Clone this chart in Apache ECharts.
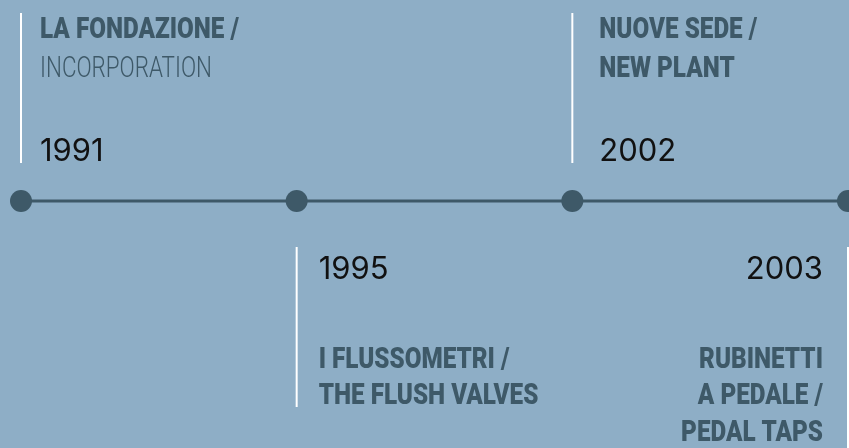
<!DOCTYPE html>
<html>
<head>
<meta charset="utf-8">
<script src="https://cdn.jsdelivr.net/npm/echarts@6/dist/echarts.min.js"></script>
<style>
html, body { margin: 0; padding: 0; background: #8eaec6; }
#main { width: 849px; height: 448px; }
</style>
</head>
<body>
<div id="main"></div>
<script>
// timeline data
var years = ['1991', '1995', '2002', '2003'];
var sides = ['top', 'bottom', 'top', 'bottom'];
var captions = [
    ['LA FONDAZIONE /', 'INCORPORATION'],
    ['I FLUSSOMETRI /', 'THE FLUSH VALVES'],
    ['NUOVE SEDE /', 'NEW PLANT'],
    ['RUBINETTI', 'A PEDALE /', 'PEDAL TAPS']
];
var thinLines = ['INCORPORATION'];
var axisValues = [0, 0, 0, 0];

var dark = '#3e5968';
var boldFont = '900 30px Roboto, sans-serif';
var thinFont = '300 30px Roboto, sans-serif';
var yearFont = '400 31px Inter, sans-serif';
// distance from the white line to the text column
var textGap = [19, 22, 27, -25];

// squeeze the caption fonts so they look condensed
var ctx = document.createElement('canvas').getContext('2d');
ctx.font = boldFont;
var squeezeBold = 199 / ctx.measureText('LA FONDAZIONE /').width;
ctx.font = thinFont;
var squeezeThin = 172 / ctx.measureText('INCORPORATION').width;

var chart = echarts.init(document.getElementById('main'));

function renderEvent(params, api) {
    var i = api.value(0);
    var p = api.coord([i, 0]);
    var top = sides[i] === 'top';
    var tx = p[0] + textGap[i];
    var align = textGap[i] < 0 ? 'right' : 'left';
    var children = [];

    children.push({
        type: 'line',
        shape: top ? { x1: p[0], y1: p[1] - 188, x2: p[0], y2: p[1] - 38 }
                   : { x1: p[0], y1: p[1] + 46, x2: p[0], y2: p[1] + (align === 'right' ? 260 : 206) },
        style: { stroke: '#ffffff', lineWidth: 2 }
    });

    // year
    children.push({
        type: 'text',
        style: {
            text: years[i],
            x: tx,
            y: top ? p[1] - 49 : p[1] + 68.5,
            align: align,
            verticalAlign: 'middle',
            fill: '#111111',
            font: yearFont
        }
    });

    // caption lines
    var lines = captions[i];
    for (var k = 0; k < lines.length; k++) {
        var thin = thinLines.indexOf(lines[k]) >= 0;
        var ty = top ? p[1] - 170.5 + k * 39 : p[1] + 159 + k * 36.5;
        children.push({
            type: 'text',
            x: tx,
            y: ty,
            scaleX: thin ? squeezeThin : squeezeBold,
            style: {
                text: lines[k],
                x: 0,
                y: 0,
                align: align,
                verticalAlign: 'middle',
                fill: dark,
                font: thin ? thinFont : boldFont
            }
        });
    }
    return { type: 'group', children: children };
}

var option = {
    animation: false,
    backgroundColor: '#8eaec6',
    grid: { left: 21, right: 1, top: 0, height: 402 },
    xAxis: {
        type: 'category',
        data: years,
        boundaryGap: false,
        show: false
    },
    yAxis: { type: 'value', min: -1, max: 1, show: false },
    series: [
        {
            type: 'line',
            data: axisValues,
            symbol: 'circle',
            symbolSize: 22,
            lineStyle: { color: dark, width: 3 },
            itemStyle: { color: dark },
            z: 3
        },
        {
            type: 'custom',
            data: years.map(function (y, i) { return [i, 0]; }),
            renderItem: renderEvent,
            clip: false,
            silent: true,
            z: 2
        }
    ]
};

chart.setOption(option);
</script>
</body>
</html>
